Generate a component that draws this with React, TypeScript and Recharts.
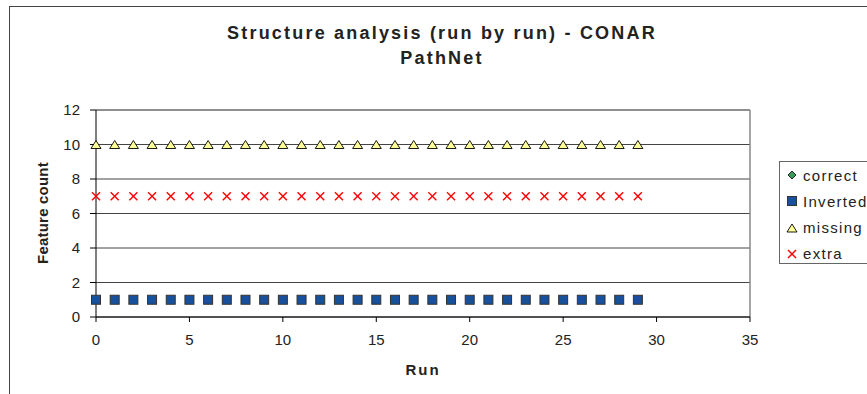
import React from 'react';
import { ScatterChart, Scatter, XAxis, YAxis, CartesianGrid, ReferenceLine } from 'recharts';

const runs = [0, 1, 2, 3, 4, 5, 6, 7, 8, 9, 10, 11, 12, 13, 14, 15, 16, 17, 18, 19, 20, 21, 22, 23, 24, 25, 26, 27, 28, 29];
const correctCounts: number[] = [];
const invertedCounts = [1, 1, 1, 1, 1, 1, 1, 1, 1, 1, 1, 1, 1, 1, 1, 1, 1, 1, 1, 1, 1, 1, 1, 1, 1, 1, 1, 1, 1, 1];
const missingCounts = [10, 10, 10, 10, 10, 10, 10, 10, 10, 10, 10, 10, 10, 10, 10, 10, 10, 10, 10, 10, 10, 10, 10, 10, 10, 10, 10, 10, 10, 10];
const extraCounts = [7, 7, 7, 7, 7, 7, 7, 7, 7, 7, 7, 7, 7, 7, 7, 7, 7, 7, 7, 7, 7, 7, 7, 7, 7, 7, 7, 7, 7, 7];
const xTicks = [0, 5, 10, 15, 20, 25, 30, 35];
const yTicks = [0, 2, 4, 6, 8, 10, 12];
const seriesNames = ['correct', 'Inverted', 'missing', 'extra'];
const titleLines = ['Structure analysis (run by run) - CONAR', 'PathNet'];
const xTitle = 'Run';
const yTitle = 'Feature count';

const toPoints = (vals: number[]) => vals.map((v, i) => ({ run: runs[i], value: v }));
const correctData = toPoints(correctCounts);
const invertedData = toPoints(invertedCounts);
const missingData = toPoints(missingCounts);
const extraData = toPoints(extraCounts);

const FONT = '"Liberation Sans", Arial, sans-serif';

const SquareMark = (p: any) => (
  <rect x={p.cx - 4.5} y={p.cy - 4.5} width={9} height={9} fill="#17519D" stroke="#333" strokeWidth={1} />
);
const TriangleMark = (p: any) => (
  <polygon
    points={`${p.cx},${p.cy - 4} ${p.cx + 5},${p.cy + 4} ${p.cx - 5},${p.cy + 4}`}
    fill="#FFFF99"
    stroke="#000"
    strokeWidth={0.9}
  />
);
const XMark = (p: any) => (
  <g stroke="#FF0000" strokeWidth={1.4}>
    <line x1={p.cx - 4} y1={p.cy - 4} x2={p.cx + 4} y2={p.cy + 4} />
    <line x1={p.cx - 4} y1={p.cy + 4} x2={p.cx + 4} y2={p.cy - 4} />
  </g>
);
const DiamondMark = (p: any) => (
  <polygon
    points={`${p.cx},${p.cy - 4} ${p.cx + 4},${p.cy} ${p.cx},${p.cy + 4} ${p.cx - 4},${p.cy}`}
    fill="#3A9A5A"
    stroke="#000"
    strokeWidth={0.8}
  />
);

const legendMarks = [DiamondMark, SquareMark, TriangleMark, XMark];

export default function App() {
  return (
    <div
      style={{
        position: 'absolute',
        left: 0,
        top: 0,
        width: 867,
        height: 394,
        overflow: 'hidden',
        background: '#fff',
        fontFamily: FONT,
      }}
    >
      <div
        style={{
          position: 'absolute',
          left: 9,
          top: 6,
          width: 900,
          height: 420,
          borderLeft: '1.5px solid #444',
          borderTop: '1.5px solid #444',
        }}
      />
      <ScatterChart width={867} height={394} margin={{ top: 110, right: 117, left: 36, bottom: 47 }}>
        <CartesianGrid vertical={false} stroke="#444" strokeWidth={1} />
        <XAxis
          type="number"
          dataKey="run"
          domain={[0, 35]}
          ticks={xTicks}
          interval={0}
          height={30}
          tickSize={5}
          tickMargin={12}
          axisLine={{ stroke: '#000' }}
          tickLine={{ stroke: '#000' }}
          tick={{ fill: '#222', fontSize: 15, fontFamily: FONT }}
        />
        <YAxis
          type="number"
          dataKey="value"
          domain={[0, 12]}
          ticks={yTicks}
          interval={0}
          width={60}
          tickSize={6}
          tickMargin={10}
          axisLine={{ stroke: '#000' }}
          tickLine={{ stroke: '#000' }}
          tick={{ fill: '#222', fontSize: 15, fontFamily: FONT }}
        />
        <ReferenceLine y={12} stroke="#888" strokeWidth={1.5} />
        <ReferenceLine x={35} stroke="#888" strokeWidth={1.5} />
        <Scatter name={seriesNames[0]} data={correctData} shape={DiamondMark} isAnimationActive={false} />
        <Scatter name={seriesNames[1]} data={invertedData} shape={SquareMark} isAnimationActive={false} />
        <Scatter name={seriesNames[2]} data={missingData} shape={TriangleMark} isAnimationActive={false} />
        <Scatter name={seriesNames[3]} data={extraData} shape={XMark} isAnimationActive={false} />
      </ScatterChart>

      {titleLines.map((t, i) => (
        <div
          key={t}
          style={{
            position: 'absolute',
            left: 0,
            width: 884,
            top: 22 + i * 25,
            height: 22,
            lineHeight: '22px',
            textAlign: 'center',
            fontWeight: 'bold',
            fontSize: 18,
            letterSpacing: 2.2,
            color: '#222',
          }}
        >
          {t}
        </div>
      ))}

      <div
        style={{
          position: 'absolute',
          left: 323,
          width: 200,
          top: 360,
          height: 20,
          lineHeight: '20px',
          textAlign: 'center',
          fontWeight: 'bold',
          fontSize: 15,
          letterSpacing: 2,
          color: '#222',
        }}
      >
        {xTitle}
      </div>

      <div
        style={{
          position: 'absolute',
          left: 43 - 70,
          width: 140,
          top: 213 - 10,
          height: 20,
          lineHeight: '20px',
          textAlign: 'center',
          fontWeight: 'bold',
          fontSize: 15,
          letterSpacing: 0.2,
          color: '#222',
          transform: 'rotate(-90deg)',
        }}
      >
        {yTitle}
      </div>

      <div
        style={{
          position: 'absolute',
          left: 779,
          top: 161,
          width: 100,
          height: 103,
          border: '1px solid #666',
          boxSizing: 'border-box',
        }}
      >
        {seriesNames.map((n, i) => {
          const Mark = legendMarks[i];
          return (
            <div
              key={n}
              style={{
                position: 'absolute',
                left: 0,
                top: 3 + i * 26.3,
                height: 20,
                display: 'flex',
                alignItems: 'center',
                whiteSpace: 'nowrap',
              }}
            >
              <svg width={22} height={20} style={{ display: 'block' }}>
                <Mark cx={12} cy={10} />
              </svg>
              <span style={{ fontSize: 15, letterSpacing: 1.3, color: '#222', marginLeft: 1 }}>{n}</span>
            </div>
          );
        })}
      </div>
    </div>
  );
}
